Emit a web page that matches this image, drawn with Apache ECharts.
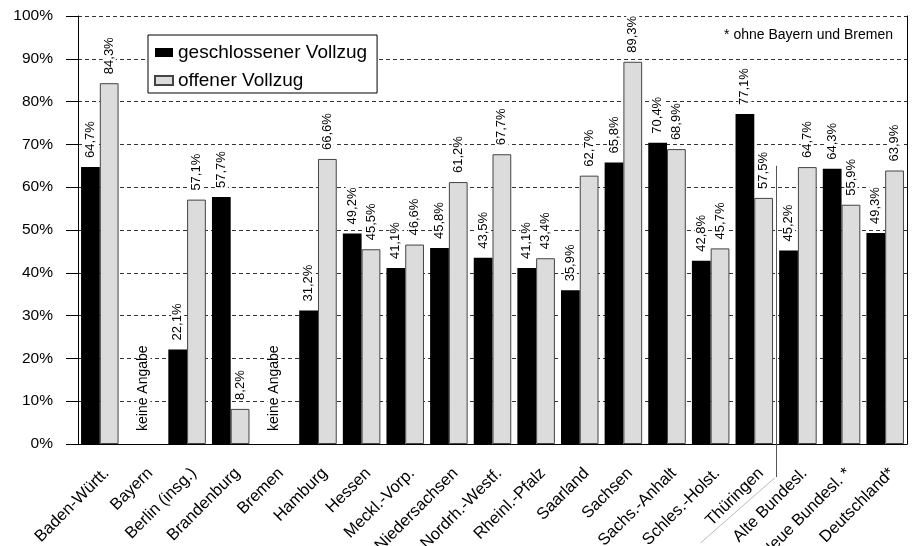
<!DOCTYPE html>
<html>
<head>
<meta charset="utf-8">
<script src="https://cdn.jsdelivr.net/npm/echarts@6/dist/echarts.min.js"></script>
<style>
  html, body { margin: 0; padding: 0; background: #fff; }
  #chart { width: 912px; height: 546px; }
</style>
</head>
<body>
<div id="chart"></div>
<script>
// Länder und Aggregate
const categories = [
  'Baden-Württ.', 'Bayern', 'Berlin (insg.)', 'Brandenburg', 'Bremen', 'Hamburg',
  'Hessen', 'Meckl.-Vorp.', 'Niedersachsen', 'Nordrh.-Westf.', 'Rheinl.-Pfalz',
  'Saarland', 'Sachsen', 'Sachs.-Anhalt', 'Schles.-Holst.', 'Thüringen',
  'Alte Bundesl.', 'Neue Bundesl. *', 'Deutschland*'
];
// Anteile in Prozent (null = keine Angabe)
const geschlossen = [64.7, null, 22.1, 57.7, null, 31.2, 49.2, 41.1, 45.8, 43.5, 41.1, 35.9, 65.8, 70.4, 42.8, 77.1, 45.2, 64.3, 49.3];
const offen       = [84.3, null, 57.1, 8.2, null, 66.6, 45.5, 46.6, 61.2, 67.7, 43.4, 62.7, 89.3, 68.9, 45.7, 57.5, 64.7, 55.9, 63.9];
const keineAngabe = categories.map((c, i) => (geschlossen[i] === null && offen[i] === null) ? 0 : null);
const yTicks = [0, 10, 20, 30, 40, 50, 60, 70, 80, 90, 100];

const FONT = "'Liberation Sans', Arial, sans-serif";
const fmt = v => v.toFixed(1).replace('.', ',') + '%';

const valueLabel = {
  show: true,
  position: 'top',
  rotate: 90,
  align: 'left',
  verticalAlign: 'middle',
  distance: 8,
  fontFamily: FONT,
  fontSize: 13,
  color: '#000',
  backgroundColor: '#fff',
  padding: [0, 1],
  formatter: p => fmt(p.value)
};

const chart = echarts.init(document.getElementById('chart'), null, { renderer: 'canvas' });

chart.setOption({
  animation: false,
  backgroundColor: '#fff',
  textStyle: { fontFamily: FONT },
  grid: { left: 78, right: 5, top: 16, bottom: 102, containLabel: false, outerBoundsMode: 'none' },
  legend: {
    data: ['geschlossener Vollzug', 'offener Vollzug'],
    orient: 'vertical',
    left: 148,
    top: 35,
    icon: 'rect',
    itemWidth: 18,
    itemHeight: 9,
    itemGap: 9,
    padding: [8, 10, 3, 6],
    borderColor: '#000',
    borderWidth: 1,
    backgroundColor: '#fff',
    textStyle: { fontFamily: FONT, fontSize: 19, color: '#000' },
    z: 10
  },
  xAxis: [
    {
      type: 'category',
      data: categories,
      axisLine: { lineStyle: { color: '#000', width: 1 } },
      axisTick: { alignWithLabel: true, length: 12, lineStyle: { color: '#000' } },
      axisLabel: {
        interval: 0,
        rotate: 45,
        align: 'right',
        verticalAlign: 'top',
        padding: [1, 0, 0, 0],
        margin: 20,
        fontFamily: FONT,
        fontSize: 16.5,
        color: '#000'
      }
    },
    {
      type: 'category',
      data: categories,
      show: false,
      position: 'bottom'
    }
  ],
  yAxis: [
    {
      type: 'value',
      min: yTicks[0],
      max: yTicks[yTicks.length - 1],
      interval: 10,
      axisLine: { show: true, lineStyle: { color: '#000', width: 1 } },
      axisTick: { show: true, length: 12, lineStyle: { color: '#000' } },
      axisLabel: {
        margin: 25,
        fontFamily: FONT,
        fontSize: 15.5,
        color: '#000',
        formatter: '{value}%'
      },
      splitLine: { show: true, lineStyle: { color: '#333', type: [4, 3], width: 1 } }
    },
    {
      type: 'value',
      position: 'right',
      min: 0,
      max: 100,
      interval: 10,
      axisLine: { show: true, lineStyle: { color: '#000', width: 1 } },
      axisTick: { show: false },
      axisLabel: { show: false },
      splitLine: { show: false }
    }
  ],
  series: [
    {
      name: 'geschlossener Vollzug',
      type: 'bar',
      data: geschlossen,
      barGap: '0%',
      barCategoryGap: '14%',
      itemStyle: { color: '#000' },
      label: valueLabel
    },
    {
      name: 'offener Vollzug',
      type: 'bar',
      data: offen,
      itemStyle: { color: '#dcdcdc', borderColor: '#444', borderWidth: 1 },
      label: valueLabel
    },
    {
      name: 'keine Angabe',
      type: 'bar',
      xAxisIndex: 1,
      data: keineAngabe,
      itemStyle: { color: 'transparent' },
      label: {
        show: true,
        position: 'top',
        rotate: 90,
        align: 'left',
        verticalAlign: 'middle',
        distance: 12,
        fontFamily: FONT,
        fontSize: 14,
        color: '#000',
        backgroundColor: '#fff',
        padding: [0, 1],
        formatter: 'keine Angabe'
      }
    }
  ]
});

// Trennlinie zwischen Ländern und Aggregaten, Fußnote
const xLeft = chart.convertToPixel({ xAxisIndex: 0 }, 'Thüringen');
const xRight = chart.convertToPixel({ xAxisIndex: 0 }, 'Alte Bundesl.');
const xSep = Math.round((xLeft + xRight) / 2) + 0.5;
const yTop = chart.convertToPixel({ yAxisIndex: 0 }, 65);
const yZero = chart.convertToPixel({ yAxisIndex: 0 }, 0);

chart.setOption({
  graphic: [
    {
      type: 'line',
      shape: { x1: xSep, y1: yTop, x2: xSep, y2: yZero + 33 },
      style: { stroke: '#555', lineWidth: 1 },
      z: 20
    },
    {
      type: 'line',
      shape: { x1: xSep - 2, y1: yZero + 34, x2: xSep - 76, y2: yZero + 99 },
      style: { stroke: '#aaa', lineWidth: 0.8 },
      z: 20
    },
    {
      type: 'text',
      right: 19,
      top: 28,
      style: {
        text: '* ohne Bayern und Bremen',
        fontFamily: FONT,
        fontSize: 14,
        fill: '#000'
      },
      z: 20
    }
  ]
});
</script>
</body>
</html>
